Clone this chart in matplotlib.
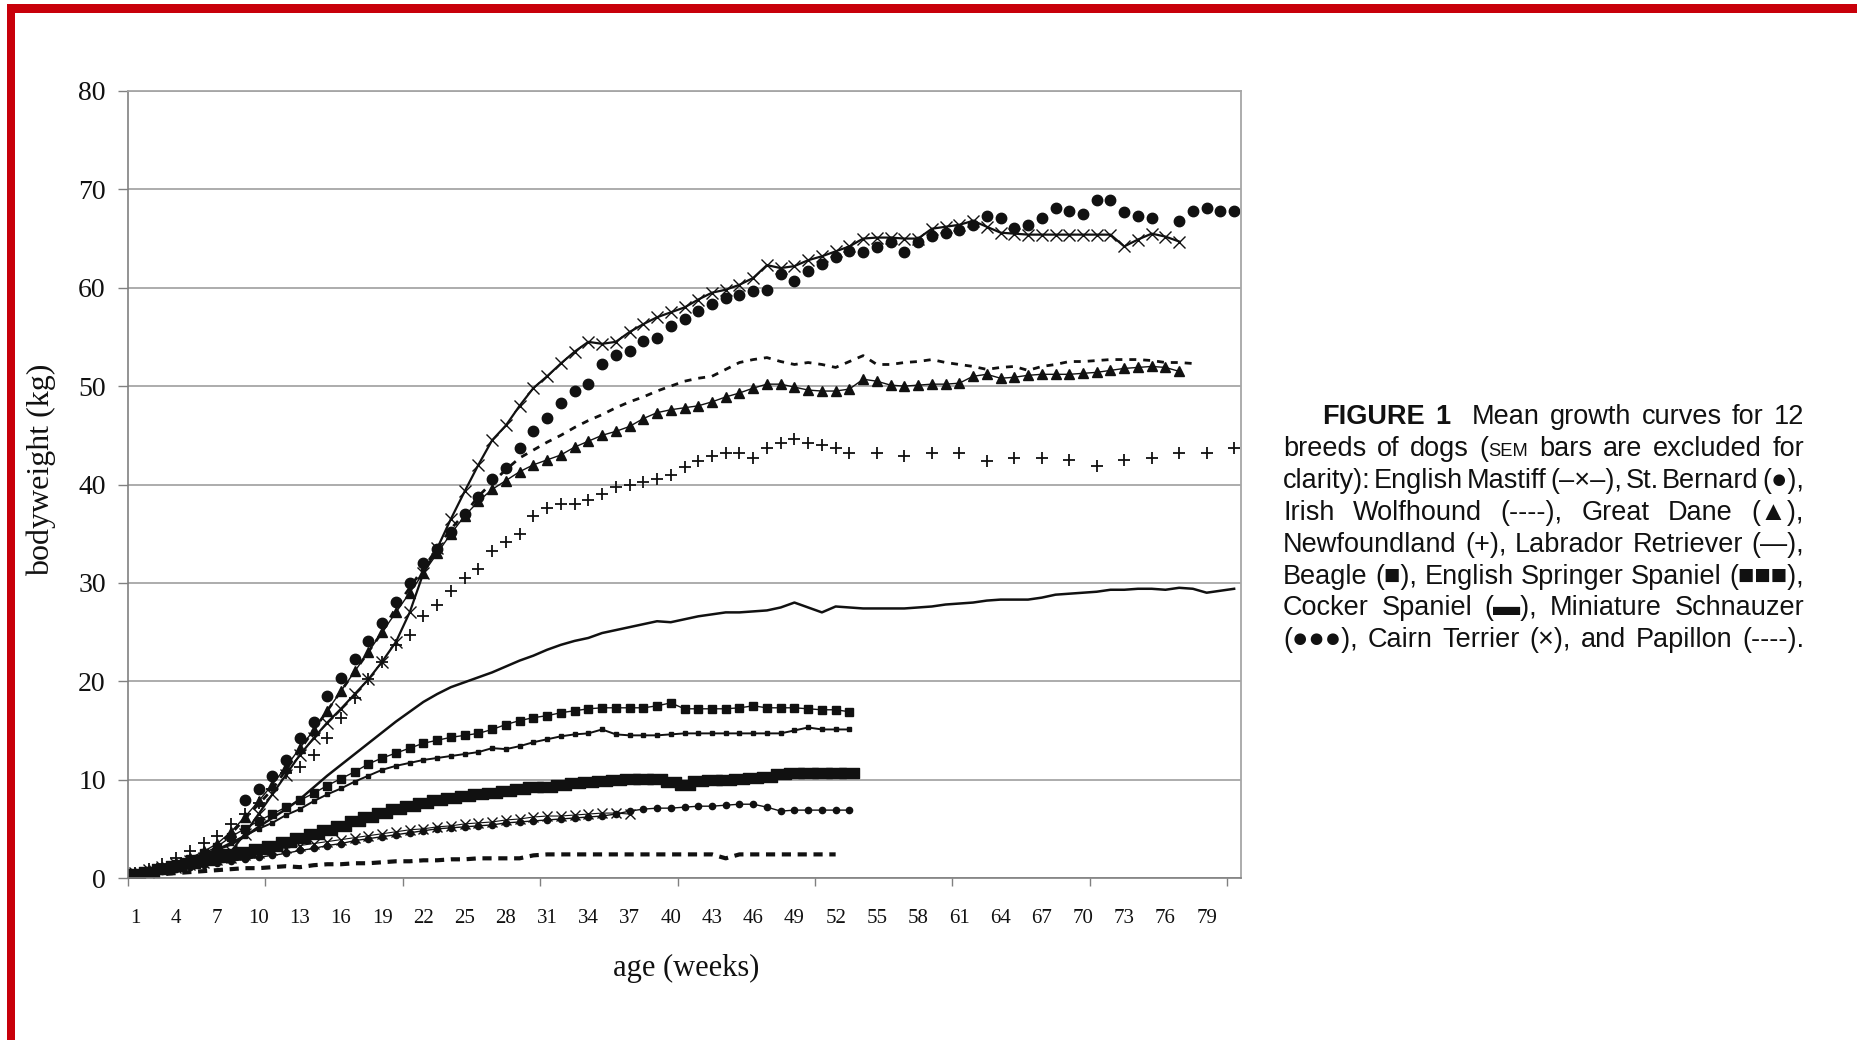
import re

import matplotlib

matplotlib.use("Agg")
import matplotlib.pyplot as plt
import numpy as np
from matplotlib.patches import Rectangle

W, H = 1857, 1040
SERIF = "Liberation Serif"
SANS = ["Liberation Sans", "DejaVu Sans"]
INK = "#111111"

# ---------------------------------------------------------------------------
# Data: mean bodyweight (kg) per age week
# ---------------------------------------------------------------------------
mastiff_weeks = list(range(1, 78))
mastiff = [0.5, 0.8, 1.1, 1.4, 1.7, 2.0, 2.3, 2.7, 4.5, 6.5,
           8.5, 10.5, 12.5, 14.2, 15.8, 17.2, 18.7, 20.2, 22.0, 24.0,
           27.0, 31.0, 33.5, 36.5, 39.3, 42.0, 44.5, 46.0, 48.0, 49.8,
           51.0, 52.3, 53.5, 54.5, 54.3, 54.5, 55.5, 56.3, 57.0, 57.5,
           58.0, 58.8, 59.5, 59.8, 60.3, 61.0, 62.3, 62.0, 62.2, 62.8,
           63.2, 63.7, 64.2, 65.0, 65.1, 65.1, 65.0, 65.0, 66.0, 66.2,
           66.4, 66.8, 66.2, 65.6, 65.5, 65.4, 65.4, 65.4, 65.4, 65.4,
           65.4, 65.4, 64.2, 64.9, 65.5, 65.2, 64.7]

bernard_weeks = list(range(9, 82))
bernard = [7.9, 9.0, 10.4, 12.0, 14.2, 15.9, 18.5, 20.3, 22.3, 24.1,
           25.9, 28.1, 30.0, 32.0, 33.4, 35.2, 37.0, 38.7, 40.6, 41.7,
           43.7, 45.4, 46.8, 48.3, 49.5, 50.2, 52.2, 53.2, 53.6, 54.6,
           54.9, 56.1, 56.8, 57.6, 58.3, 59.0, 59.3, 59.7, 59.8, 61.4,
           60.7, 61.7, 62.4, 63.1, 63.7, 63.6, 64.1, 64.6, 63.6, 64.6,
           65.3, 65.6, 65.9, 66.4, 67.3, 67.1, 66.1, 66.4, 67.1, 68.1,
           67.8, 67.5, 68.9, 68.9, 67.7, 67.3, 67.1, np.nan, 66.8, 67.8,
           68.1, 67.8, 67.8]

wolfhound_weeks = list(range(1, 79))
wolfhound = [0.4, 0.7, 1.0, 1.4, 1.9, 2.5, 3.3, 4.5, 6.0, 7.5,
             9.0, 11.0, 13.0, 15.0, 17.0, 19.0, 21.0, 23.0, 25.0, 27.5,
             29.5, 31.5, 33.5, 35.5, 37.0, 38.8, 40.2, 41.5, 42.7, 43.5,
             44.3, 45.0, 45.8, 46.5, 47.1, 47.8, 48.4, 48.9, 49.5, 50.0,
             50.5, 50.8, 51.0, 51.7, 52.4, 52.7, 52.9, 52.5, 52.2, 52.4,
             52.2, 51.9, 52.5, 53.1, 52.2, 52.2, 52.4, 52.5, 52.7, 52.4,
             52.2, 52.0, 51.7, 51.9, 52.0, 51.6, 52.0, 52.2, 52.5, 52.5,
             52.6, 52.7, 52.7, 52.7, 52.6, 52.4, 52.4, 52.3]

dane_weeks = list(range(1, 78))
dane = [0.5, 0.8, 1.1, 1.5, 2.0, 2.7, 3.5, 4.7, 6.2, 7.8,
        9.5, 11.3, 13.2, 15.0, 17.0, 19.0, 21.0, 23.0, 25.0, 27.0,
        29.0, 31.0, 33.0, 35.0, 36.8, 38.3, 39.5, 40.4, 41.3, 42.0,
        42.5, 43.0, 43.8, 44.4, 45.0, 45.4, 45.9, 46.7, 47.3, 47.6,
        47.8, 48.0, 48.4, 48.9, 49.3, 49.8, 50.2, 50.2, 49.9, 49.6,
        49.5, 49.5, 49.7, 50.7, 50.5, 50.1, 50.0, 50.1, 50.2, 50.2,
        50.3, 51.0, 51.2, 50.8, 50.9, 51.1, 51.2, 51.2, 51.2, 51.3,
        51.4, 51.6, 51.8, 51.9, 52.0, 51.9, 51.5]

newfoundland_weeks = list(range(1, 54)) + list(range(55, 82, 2))
newfoundland = [0.5, 0.9, 1.4, 2.0, 2.7, 3.6, 4.3, 5.5, 6.5, 7.6,
                9.0, 10.7, 11.3, 12.5, 14.2, 16.3, 18.3, 20.2, 22.0, 23.7,
                24.7, 26.6, 27.8, 29.2, 30.5, 31.4, 33.2, 34.2, 35.0, 36.8,
                37.6, 38.0, 38.0, 38.4, 39.0, 39.7, 40.0, 40.3, 40.6, 41.0,
                41.8, 42.4, 42.9, 43.2, 43.2, 42.7, 43.7, 44.2, 44.6, 44.2,
                44.0, 43.7, 43.2,
                43.2, 42.9, 43.2, 43.2, 42.4, 42.7, 42.7, 42.5, 41.9, 42.5,
                42.7, 43.2, 43.2, 43.7]

labrador_weeks = list(range(1, 82))
labrador = [0.3, 0.7, 1.1, 1.5, 1.9, 2.4, 2.9, 3.4, 4.2, 5.2,
            6.1, 7.0, 8.0, 9.2, 10.4, 11.5, 12.6, 13.7, 14.8, 15.9,
            16.9, 17.9, 18.7, 19.4, 19.9, 20.4, 20.9, 21.5, 22.1, 22.6,
            23.2, 23.7, 24.1, 24.4, 24.9, 25.2, 25.5, 25.8, 26.1, 26.0,
            26.3, 26.6, 26.8, 27.0, 27.0, 27.1, 27.2, 27.5, 28.0, 27.5,
            27.0, 27.6, 27.5, 27.4, 27.4, 27.4, 27.4, 27.5, 27.6, 27.8,
            27.9, 28.0, 28.2, 28.3, 28.3, 28.3, 28.5, 28.8, 28.9, 29.0,
            29.1, 29.3, 29.3, 29.4, 29.4, 29.3, 29.5, 29.4, 29.0, 29.2,
            29.4]

springer_weeks = list(range(1, 54))
springer = [0.4, 0.7, 1.0, 1.4, 1.9, 2.5, 3.2, 4.2, 5.0, 5.8,
            6.5, 7.2, 7.9, 8.6, 9.4, 10.1, 10.8, 11.6, 12.2, 12.7,
            13.2, 13.7, 14.0, 14.3, 14.5, 14.7, 15.1, 15.6, 16.0, 16.3,
            16.5, 16.8, 17.0, 17.2, 17.3, 17.3, 17.3, 17.3, 17.5, 17.8,
            17.2, 17.2, 17.2, 17.2, 17.3, 17.5, 17.3, 17.3, 17.3, 17.2,
            17.1, 17.1, 16.9]

beagle_weeks = list(range(1, 54))
beagle = [0.4, 0.7, 1.0, 1.4, 1.8, 2.3, 2.9, 3.6, 4.3, 5.0,
          5.6, 6.4, 7.0, 7.8, 8.5, 9.1, 9.8, 10.4, 11.0, 11.4,
          11.7, 12.0, 12.2, 12.4, 12.6, 12.8, 13.2, 13.1, 13.4, 13.8,
          14.1, 14.4, 14.6, 14.7, 15.1, 14.6, 14.5, 14.5, 14.5, 14.6,
          14.7, 14.7, 14.7, 14.7, 14.7, 14.7, 14.7, 14.7, 15.0, 15.3,
          15.1, 15.1, 15.1]

cocker_weeks = list(range(1, 54))
cocker = [0.4, 0.6, 0.9, 1.2, 1.5, 1.8, 2.1, 2.4, 2.6, 2.9,
          3.3, 3.7, 4.1, 4.5, 4.9, 5.3, 5.8, 6.2, 6.6, 7.0,
          7.3, 7.6, 7.9, 8.1, 8.3, 8.5, 8.6, 8.8, 9.0, 9.2,
          9.3, 9.5, 9.7, 9.8, 9.9, 10.0, 10.1, 10.1, 10.1, 9.8,
          9.5, 9.9, 10.0, 10.0, 10.1, 10.2, 10.3, 10.6, 10.7, 10.7,
          10.7, 10.7, 10.7]

schnauzer_weeks = list(range(1, 54))
schnauzer = [0.3, 0.5, 0.7, 0.9, 1.1, 1.3, 1.5, 1.7, 1.9, 2.1,
             2.3, 2.5, 2.8, 3.0, 3.3, 3.5, 3.8, 4.0, 4.2, 4.4,
             4.6, 4.8, 5.0, 5.1, 5.2, 5.3, 5.4, 5.6, 5.7, 5.8,
             5.9, 6.0, 6.1, 6.2, 6.3, 6.5, 6.8, 7.0, 7.1, 7.1,
             7.2, 7.3, 7.3, 7.4, 7.5, 7.5, 7.2, 6.8, 6.9, 6.9,
             6.9, 6.9, 6.9]

cairn_weeks = list(range(1, 38))
cairn = [0.3, 0.5, 0.8, 1.0, 1.3, 1.5, 1.8, 2.0, 2.3, 2.5,
         2.8, 3.0, 3.3, 3.5, 3.7, 3.9, 4.1, 4.3, 4.5, 4.7,
         4.9, 5.0, 5.2, 5.3, 5.5, 5.6, 5.7, 5.9, 6.0, 6.2,
         6.3, 6.3, 6.4, 6.5, 6.6, 6.6, 6.5]

papillon_weeks = list(range(1, 53))
papillon = [0.2, 0.3, 0.4, 0.5, 0.6, 0.7, 0.8, 0.9, 1.0, 1.0,
            1.1, 1.2, 1.1, 1.3, 1.4, 1.4, 1.5, 1.5, 1.6, 1.7,
            1.7, 1.8, 1.8, 1.9, 1.9, 2.0, 2.0, 2.0, 2.0, 2.3,
            2.4, 2.4, 2.4, 2.4, 2.4, 2.4, 2.4, 2.4, 2.4, 2.4,
            2.4, 2.4, 2.4, 2.0, 2.4, 2.4, 2.4, 2.4, 2.4, 2.4,
            2.4, 2.4]

N_WEEKS = 81
x_labels = list(range(1, 80, 3))
y_ticks = list(range(0, 81, 10))

CAPTION_LINES = [
    "**FIGURE** **1**  Mean growth curves for 12",
    "breeds of dogs (^SEM^ bars are excluded for",
    "clarity): English Mastiff (\u2013\u00d7\u2013), St. Bernard (\u25cf),",
    "Irish Wolfhound (----), Great Dane (\u25b2),",
    "Newfoundland (+), Labrador Retriever (\u2014),",
    "Beagle (\u25a0), English Springer Spaniel (\u25a0\u25a0\u25a0),",
    "Cocker Spaniel (\u25ac), Miniature Schnauzer",
    "(\u25cf\u25cf\u25cf), Cairn Terrier (\u00d7), and Papillon (----).",
]


def px(x, y):
    """full-size pixel (from top-left) -> figure fraction"""
    return x / W, 1 - y / H


fig = plt.figure(figsize=(W / 100, H / 100), dpi=100, facecolor="white")

# red frame (top + left edge of the scanned page)
fig.add_artist(Rectangle(px(7, 13), (W - 7) / W, 9 / H, transform=fig.transFigure,
                         color="#c8000a", lw=0))
fig.add_artist(Rectangle((7 / W, 0), 8 / W, 1 - 4 / H, transform=fig.transFigure,
                         color="#c8000a", lw=0))

ax_l, ax_r, ax_t, ax_b = 128, 1241, 91, 878
ax = fig.add_axes([ax_l / W, 1 - ax_b / H, (ax_r - ax_l) / W, (ax_b - ax_t) / H])

mk = dict(color=INK, mec=INK, mfc=INK)
ax.plot(papillon_weeks, papillon, ls=(0, (2.2, 1.6)), lw=3.0, color=INK)
ax.plot(cairn_weeks, cairn, ls="-", lw=0.8, marker="x", ms=7, mew=1.0, **mk)
ax.plot(schnauzer_weeks, schnauzer, ls="-", lw=1.0, marker="o", ms=4.5, **mk)
rect = [(-1, -0.55), (1, -0.55), (1, 0.55), (-1, 0.55), (-1, -0.55)]
ax.plot(cocker_weeks, cocker, ls="none", marker=rect, ms=14, **mk)
ax.plot(beagle_weeks, beagle, ls="-", lw=1.4, marker="s", ms=2.5, **mk)
ax.plot(springer_weeks, springer, ls="-", lw=1.0, marker="s", ms=5.5, **mk)
ax.plot(labrador_weeks, labrador, ls="-", lw=1.8, color=INK)
ax.plot(newfoundland_weeks, newfoundland, ls="none", marker="+", ms=9, mew=1.3, **mk)
ax.plot(dane_weeks, dane, ls="-", lw=1.0, marker="^", ms=7, **mk)
ax.plot(wolfhound_weeks, wolfhound, ls=(0, (2.5, 2.5)), lw=2.0, color=INK)
ax.plot(bernard_weeks, bernard, ls="none", marker="o", ms=7.5, **mk)
ax.plot(mastiff_weeks, mastiff, ls="-", lw=1.6, marker="x", ms=9, mew=1.0, **mk)

ax.set_xlim(0.5, N_WEEKS + 0.5)
ax.set_ylim(0, 80)

ax.set_yticks(y_ticks)
ax.set_yticklabels([str(v) for v in y_ticks], fontfamily=SERIF, fontsize=20, color=INK)
ax.yaxis.grid(True, color="#a6a6a6", lw=1.3)
ax.set_axisbelow(True)
ax.tick_params(axis="y", direction="out", length=7, width=1.0, color="#808080", pad=9)

ax.set_xticks(np.arange(0.5, N_WEEKS, 10))
ax.set_xticklabels([])
ax.set_xticks(x_labels, minor=True)
ax.set_xticklabels([str(v) for v in x_labels], minor=True, fontfamily=SERIF,
                   fontsize=15, color=INK)
ax.tick_params(axis="x", which="major", direction="out", length=6, width=1.0,
               color="#808080")
ax.tick_params(axis="x", which="minor", length=0, pad=22)

for side in ("left", "bottom"):
    ax.spines[side].set_color("#808080")
    ax.spines[side].set_linewidth(1.2)
for side in ("right", "top"):
    ax.spines[side].set_color("#a6a6a6")
    ax.spines[side].set_linewidth(1.3)

fig.text(*px(686, 968), "age (weeks)", fontfamily=SERIF, fontsize=22, color=INK,
         ha="center", va="center")
fig.text(*px(41, 470), "bodyweight (kg)", fontfamily=SERIF, fontsize=23, color=INK,
         ha="center", va="center", rotation=90)

# ---------------------------------------------------------------------------
# justified caption
# ---------------------------------------------------------------------------
CAP_SIZE = 19.5
cap_left, cap_right, indent = 1283, 1804, 39
baseline0, leading = 424, 31.9
renderer = fig.canvas.get_renderer()


def pieces(word):
    out = []
    for part in re.split(r"(\*\*[^*]+\*\*|\^[^^]+\^)", word):
        if not part:
            continue
        if part.startswith("**"):
            out.append((part[2:-2], CAP_SIZE, "bold"))
        elif part.startswith("^"):
            out.append((part[1:-1], CAP_SIZE * 0.68, "normal"))
        else:
            out.append((part, CAP_SIZE, "normal"))
    return out


for i, line in enumerate(CAPTION_LINES):
    y = baseline0 + i * leading
    words, extra = [], []
    pending = 0.0
    for tok in line.split(" "):
        if tok == "":
            pending += CAP_SIZE * 0.6
            continue
        arts, width = [], 0.0
        for text, size, weight in pieces(tok):
            t = fig.text(0, 0, text, fontfamily=SANS, fontsize=size, fontweight=weight,
                         color=INK, ha="left", va="baseline")
            w = t.get_window_extent(renderer).width
            arts.append((t, w))
            width += w
        words.append((arts, width))
        extra.append(pending)
        pending = 0.0
    start = cap_left + (indent if i == 0 else 0)
    total = sum(w for _, w in words) + sum(extra)
    gap = (cap_right - start - total) / max(len(words) - 1, 1)
    x = start
    for k, (arts, width) in enumerate(words):
        if k > 0:
            x += gap + extra[k]
        xx = x
        for t, w in arts:
            t.set_position(px(xx, y))
            xx += w
        x += width

fig.savefig("out.png", dpi=100, facecolor="white")
